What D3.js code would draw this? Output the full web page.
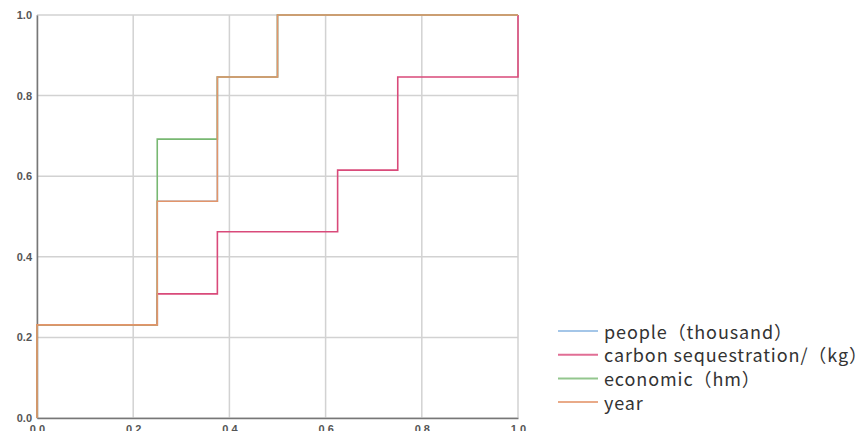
<!DOCTYPE html>
<html>
<head>
<meta charset="utf-8">
<script src="https://cdn.jsdelivr.net/npm/d3@7/dist/d3.min.js"></script>
<style>
  html, body { margin: 0; padding: 0; background: #fff; }
  svg { display: block; }
</style>
</head>
<body>
<svg id="chart" width="866" height="431"></svg>
<script>
// ROC step curves: 1 - specificity (x) against sensitivity (y)
const seriesNames = ["people\uFF08thousand\uFF09", "carbon sequestration/\uFF08kg\uFF09", "economic\uFF08hm\uFF09", "year"];
const seriesColors = ["#8db8e2", "#d94a7a", "#78b872", "#e3956a"];

const peopleX = [0, 0, 0.25, 0.25, 0.375, 0.375, 0.5, 0.5, 1];
const peopleY = [0, 0.231, 0.231, 0.538, 0.538, 0.846, 0.846, 1, 1];

const carbonX = [0, 0, 0.25, 0.25, 0.375, 0.375, 0.625, 0.625, 0.75, 0.75, 1, 1];
const carbonY = [0, 0.231, 0.231, 0.308, 0.308, 0.462, 0.462, 0.615, 0.615, 0.846, 0.846, 1];

const economicX = [0, 0, 0.25, 0.25, 0.375, 0.375, 0.5, 0.5, 1];
const economicY = [0, 0.231, 0.231, 0.692, 0.692, 0.846, 0.846, 1, 1];

const yearX = [0, 0, 0.25, 0.25, 0.375, 0.375, 0.5, 0.5, 1];
const yearY = [0, 0.231, 0.231, 0.538, 0.538, 0.846, 0.846, 1, 1];

const tickValues = [0, 0.2, 0.4, 0.6, 0.8, 1.0];

const svg = d3.select("#chart");
const plotLeft = 37, plotRight = 518, plotTop = 15, plotBottom = 418;

const x = d3.scaleLinear().domain([0, 1]).range([plotLeft, plotRight]);
const y = d3.scaleLinear().domain([0, 1]).range([plotBottom, plotTop]);

// gridlines
const grid = svg.append("g");
grid.selectAll("line.v").data(tickValues).join("line").attr("class", "v")
  .attr("x1", d => x(d)).attr("x2", d => x(d))
  .attr("y1", y(0)).attr("y2", y(1))
  .attr("stroke", "#d2d2d2").attr("stroke-width", 1.5);
grid.selectAll("line.h").data(tickValues).join("line").attr("class", "h")
  .attr("y1", d => y(d)).attr("y2", d => y(d))
  .attr("x1", x(0)).attr("x2", x(1))
  .attr("stroke", "#d2d2d2").attr("stroke-width", 1.5);

// axes (the x tick labels sit partly below the bottom edge of the canvas)
const fmt = d3.format(".1f");
const yAxis = svg.append("g")
  .attr("transform", `translate(${plotLeft},0)`)
  .call(d3.axisLeft(y).tickValues(tickValues).tickFormat(fmt).tickSize(0).tickPadding(5));
const xAxis = svg.append("g")
  .attr("transform", `translate(0,${plotBottom})`)
  .call(d3.axisBottom(x).tickValues(tickValues).tickFormat(fmt).tickSize(0).tickPadding(7));
[xAxis, yAxis].forEach(a => {
  a.select(".domain").attr("stroke", "#777").attr("stroke-width", 1.5);
  a.selectAll("text")
    .attr("font-family", "Liberation Sans, Arial, sans-serif")
    .attr("font-size", 11).attr("font-weight", "bold").attr("fill", "#555");
});

// curves
const seriesData = [
  d3.zip(peopleX, peopleY),
  d3.zip(carbonX, carbonY),
  d3.zip(economicX, economicY),
  d3.zip(yearX, yearY)
];
const line = d3.line().x(d => x(d[0])).y(d => y(d[1]));
svg.append("g").selectAll("path").data(seriesData).join("path")
  .attr("d", line)
  .attr("fill", "none")
  .attr("stroke", (d, i) => seriesColors[i])
  .attr("stroke-width", 1.6);

// legend
const legend = svg.append("g").attr("transform", "translate(558,331)");
const item = legend.selectAll("g").data(seriesNames).join("g")
  .attr("transform", (d, i) => `translate(0,${i * 23.7})`);
item.append("line")
  .attr("x1", 0).attr("x2", 40).attr("y1", 0).attr("y2", 0)
  .attr("stroke", (d, i) => seriesColors[i]).attr("stroke-width", 2)
  .attr("stroke-opacity", 0.8);
item.append("text")
  .attr("x", 46).attr("y", 0).attr("dy", "0.42em")
  .attr("font-family", "Noto Sans CJK SC, Noto Sans, sans-serif")
  .attr("font-size", 18).attr("letter-spacing", 0.9).attr("fill", "#333")
  .text(d => d);
</script>
</body>
</html>
